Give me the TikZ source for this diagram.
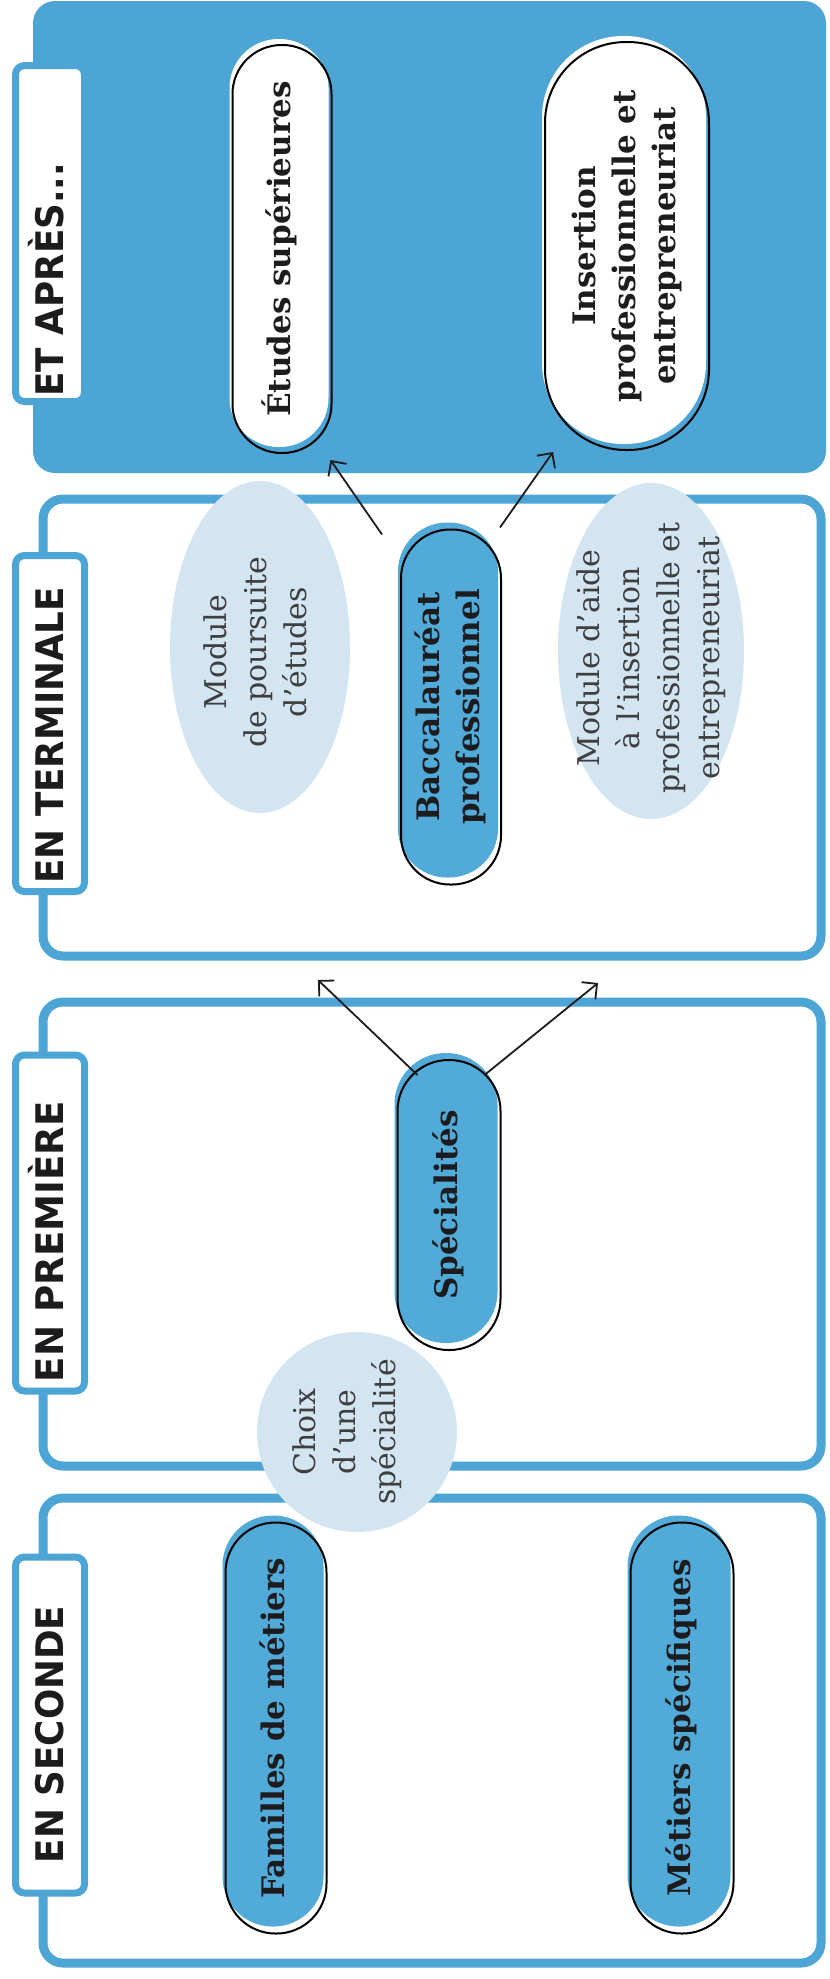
\documentclass[tikz,border=0pt]{standalone}
\usepackage{fontspec}
\usepackage{graphicx}
\usetikzlibrary{arrows.meta,calc}
\newfontfamily\slab{DejaVu Serif}
\newfontfamily\tabfont[FakeStretch=0.94]{DejaVu Sans Bold}
\definecolor{panelblue}{RGB}{76,165,212}
\definecolor{pillfill}{RGB}{82,170,216}
\definecolor{lightblue}{RGB}{210,229,241}
\definecolor{ink}{RGB}{28,28,30}
\newcommand{\vt}[1]{\rotatebox{90}{\begin{tabular}{@{}c@{}}#1\end{tabular}}}
\newcommand{\tabtext}[3][1]{\rotatebox{90}{\makebox[326pt][l]{\hspace{#2}\raisebox{0pt}[27pt][0pt]{\scalebox{#1}[1]{#3}}}}}
\begin{document}
\begin{tikzpicture}[x=1pt,y=-1pt,
  panelbox/.style={draw=panelblue, line width=9pt, rounded corners=20pt, inner sep=0pt, outer sep=0pt, minimum width=778pt},
  panelfill/.style={fill=panelblue, rounded corners=22pt, inner sep=0pt, outer sep=0pt},
  tabbox/.style={draw=panelblue, line width=7pt, fill=white, rounded corners=9pt, minimum width=69pt, minimum height=336pt, inner sep=0pt, text=ink, font=\tabfont\fontsize{38}{38}\selectfont},
  pillbase/.style={draw=black, line width=2pt, inner sep=0pt, outer sep=0pt, text=ink, font=\slab\bfseries\fontsize{31}{40}\selectfont},
  bluepill/.style={pillbase, preaction={fill=pillfill, transform canvas={shift={(-3pt,7pt)}}}},
  whitepill/.style={pillbase, preaction={fill=white, transform canvas={shift={(-3pt,6pt)}}}},
  elltext/.style={inner sep=0pt, text=ink!85, font=\slab\fontsize{30}{40}\selectfont},
  arr/.style={-{Straight Barb[length=11pt,width=22pt]}, line width=1.8pt, draw=ink}
]
\useasboundingbox (0,0) rectangle (830,1979);
\fill[white] (0,0) rectangle (830,1979);

% panels
\node[panelfill, minimum width=793pt, minimum height=472pt] (p1) at (429.5,237) {};
\node[panelbox, minimum height=457pt] (p2) at (432,727.5) {};
\node[panelbox, minimum height=464pt] (p3) at (432,1234) {};
\node[panelbox, minimum height=465pt] (p4) at (432,1730.5) {};

% light ellipses
\fill[lightblue] (260,647) ellipse [x radius=90, y radius=166];
\fill[lightblue] (651,651) ellipse [x radius=93, y radius=168];
\fill[lightblue] (357,1432) circle [radius=100];
\node[elltext] (mod1) at (258,652) {\vt{Module\\de poursuite\\d’études}};
\node[elltext] (mod2) at (651,658) {\vt{Module d’aide\\à l’insertion\\professionnelle et\\entrepreneuriat}};
\node[elltext] (choix) at (347,1432) {\vt{Choix\\d’une\\spécialité}};

% pills
\node[whitepill, minimum width=99pt, minimum height=408pt, rounded corners=49pt] (etudes) at (282,249) {\vt{Études supérieures}};
\node[whitepill, minimum width=164pt, minimum height=408pt, rounded corners=81pt] (insert) at (627,246) {\vt{Insertion\\professionnelle et\\entrepreneuriat}};
\node[bluepill, minimum width=100pt, minimum height=355pt, rounded corners=49pt] (bac) at (451,707) {\vt{Baccalauréat\\professionnel}};
\node[bluepill, minimum width=103pt, minimum height=290pt, rounded corners=51pt] (spec) at (449,1205) {\vt{Spécialités}};
\node[bluepill, minimum width=101pt, minimum height=411pt, rounded corners=50pt] (famil) at (276,1728) {\vt{Familles de métiers}};
\node[bluepill, minimum width=103pt, minimum height=411pt, rounded corners=51pt] (metiers) at (682,1728) {\vt{Métiers spécifiques}};

% connectors
\coordinate (t1) at (318,980);
\coordinate (t2) at (598,983);
\draw[arr] ($(bac.north west)+(-19,5)$) -- ($(etudes.south east)+(-1,7)$);
\draw[arr] ($(bac.north east)+(-1,-2)$) -- ($(insert.south west)+(8,2)$);
\draw[arr] ($(spec.north west)+(20,15)$) -- (t1);
\draw[arr] ($(spec.north east)+(-16,15)$) -- (t2);

% tabs
\node[tabbox] (lab1) at (50,233.5) {\tabtext{0pt}{ET APRÈS...}};
\node[tabbox] (lab2) at (50,723.5) {\tabtext{3pt}{EN TERMINALE}};
\node[tabbox] (lab3) at (50,1223) {\tabtext[1.04]{4pt}{EN PREMIÈRE}};
\node[tabbox] (lab4) at (50,1725) {\tabtext{25pt}{EN SECONDE}};
\end{tikzpicture}
\end{document}
